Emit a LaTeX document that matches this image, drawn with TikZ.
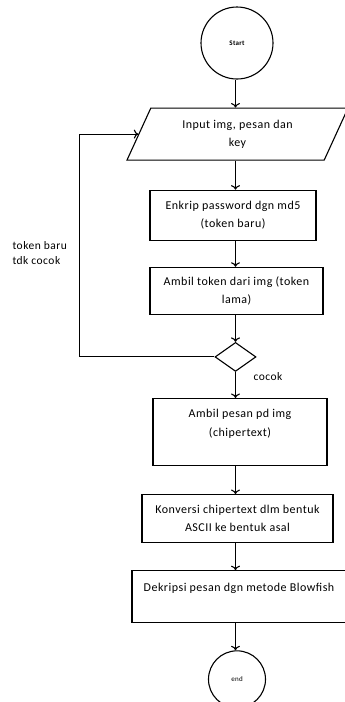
\documentclass[tikz,border=0pt]{standalone}
\usepackage{fontspec}
\setmainfont{Carlito}[LetterSpace=4]
\usepackage{tikz}
\usetikzlibrary{arrows.meta,positioning,shapes.geometric}

\begin{document}
\begin{tikzpicture}[x=1pt,y=1pt,% styles for the whole flowchart
					every node/.style={
						align=center,  		% "\\" breaks the lines
						font=\fontsize{12}{18.5}\selectfont
						},
					every edge/.style={draw,line width=1.1pt},
					>={To[length=4.5pt,width=9pt]},
					box/.style={rectangle,draw=black,line width=1.1pt,inner sep=0pt},
					inout/.style={trapezium,trapezium left angle=50.4,trapezium right angle=129.6,
						trapezium stretches body,draw=black,line width=1.1pt,inner sep=0pt},
					terminal/.style={circle,draw=black,line width=1.1pt,inner sep=0pt,
						font=\fontsize{7}{8}\selectfont\bfseries},
					decision/.style={diamond,draw=black,line width=1.1pt,inner sep=0pt,
						minimum width=41pt,minimum height=29pt},
					note/.style={font=\fontsize{11.5}{15}\selectfont}
					]
\useasboundingbox[fill=white] (0,0) rectangle (345,-702);
\coordinate (col) at (235.5,0);
\node[terminal,minimum size=72pt](S0) at (237,-43){Start};
\node[inout,minimum width=221pt,minimum height=52pt](P1)[below=28pt of S0, xshift=0.5pt]{Input img, pesan dan\\ key};
\node[box,minimum width=166pt,minimum height=50pt](R1)[below=29pt of P1, xshift=-4.5pt]{Enkrip password dgn md5\\ (token baru)};
\node[box,minimum width=173pt,minimum height=47pt](R2)[below=26pt of R1, xshift=3.5pt]{Ambil token dari img (token\\ lama)};
\node[decision](D1)[below=27pt of R2, xshift=-1pt]{};
\node[box,minimum width=174pt,minimum height=67pt](R3)[below=26pt of D1, xshift=4.5pt]{Ambil pesan pd img\\ (chipertext)\\ \mbox{}};
\node[box,minimum width=191pt,minimum height=48pt](R4)[below=28pt of R3, xshift=-2.5pt]{Konversi chipertext dlm bentuk\\ ASCII ke bentuk asal};
\node[box,minimum width=214pt,minimum height=52pt](R5)[below=27pt of R4, xshift=1.5pt]{Dekripsi pesan dgn metode Blowfish\\ \mbox{}};
\node[terminal,minimum size=57pt,font=\fontsize{7}{8}\selectfont](E1)[below=27pt of R5, xshift=-2pt]{end};
% labels of the two branches
\node[note,align=left,anchor=west](L1) at (9,-253.5){token baru\\ tdk cocok};
\node[note](L2) at (268,-377){cocok};
\path[->]
(col |- S0.south)edge [] (col |- P1.north)
(col |- P1.south)edge [] (col |- R1.north)
(col |- R1.south)edge [] (col |- R2.north)
(col |- R2.south)edge [] (col |- D1.north)
(col |- D1.south)edge [] (col |- R3.north)
(col |- R3.south)edge [] (col |- R4.north)
(col |- R4.south)edge [] (col |- R5.north)
(col |- R5.south)edge [] (col |- E1.north)
;
% back to the input when the tokens differ
\coordinate (loopL) at ([xshift=-58.5pt]P1.left side);
\draw[->,line width=1.1pt] (D1.west) -| (loopL) -- (P1.left side);
\end{tikzpicture}
\end{document}
